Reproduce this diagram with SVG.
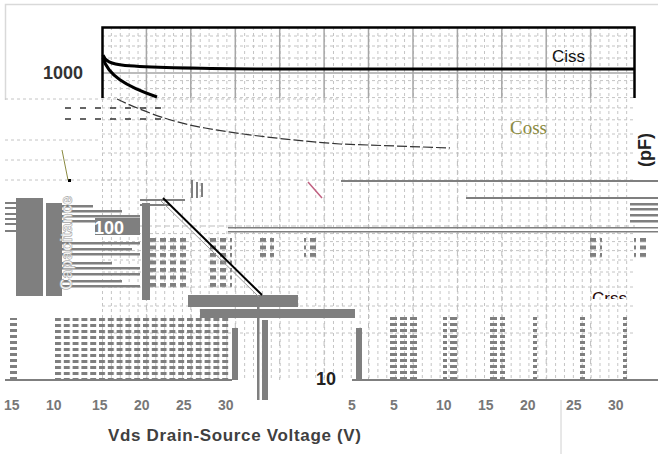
<svg xmlns="http://www.w3.org/2000/svg" width="658" height="454" viewBox="0 0 658 454">
<style>
.lbl{font-family:"Liberation Sans",Arial,sans-serif;font-weight:bold}
.blk{fill:#7f7f7f}
.hg{stroke:#c4c4c4;stroke-width:1;stroke-dasharray:3,3;fill:none}
.maj{stroke:#a6a6a6;stroke-width:1.5}
.tick{font-family:"Liberation Sans",Arial,sans-serif;font-weight:bold;font-size:14px;fill:#777}
</style>
<defs>
<pattern id="vminor" x="102" y="27" width="8.884" height="6" patternUnits="userSpaceOnUse">
<rect x="0" y="0" width="1" height="3" fill="#c4c4c4"/>
</pattern>
<pattern id="dashfield" x="55" y="318" width="8.8" height="6" patternUnits="userSpaceOnUse">
<rect x="0" y="0" width="6" height="3" fill="#7f7f7f"/>
</pattern>
<pattern id="dashcol" x="0" y="317" width="10" height="6" patternUnits="userSpaceOnUse">
<rect x="0" y="0" width="7" height="3" fill="#7f7f7f"/>
</pattern>
<pattern id="sq" x="150" y="238" width="10" height="7.5" patternUnits="userSpaceOnUse">
<rect x="0" y="0" width="6" height="4" fill="#7f7f7f"/>
</pattern>
<clipPath id="crssclip"><rect x="580" y="280" width="60" height="19"/></clipPath>
</defs>
<rect x="0" y="0" width="658" height="454" fill="#ffffff"/>
<path d="M5.5,100 V4.5 H658" fill="none" stroke="#d9d9d9" stroke-width="1.5"/>

<g id="grid">
<rect x="102" y="27" width="533" height="353" fill="url(#vminor)"/>
<g class="hg">
<path d="M102,36 H635 M102,46 H635 M102,58 H635 M102,80.6 H635 M102,88.6 H635 M102,97.6 H635 M102,107.9 H635 M102,119.8 H635 M102,134 H635 M102,153 H635 M102,180 H635 M102,233.6 H635 M102,241.6 H635 M102,250.6 H635 M102,260 H635 M102,272 H635 M102,287 H635 M102,306 H635 M102,333 H635"/>
<path d="M5,99 H340 M5,140 H100 M5,160 H100 M5,180 H120"/>
</g>
<g class="maj">
<path d="M146.4,27 V98 M190.8,27 V98 M235.3,27 V98 M279.7,27 V98 M324.1,27 V98 M368.5,27 V98 M413,27 V98 M457.4,27 V98 M501.8,27 V98 M546.2,27 V98 M590.6,27 V98"/>
<path d="M102,73 H635"/>
</g>
<g stroke="#bdbdbd" stroke-width="1" stroke-dasharray="5,4">
<path d="M146.4,98 V380 M190.8,98 V380 M235.3,98 V380 M279.7,98 V380 M324.1,98 V380 M368.5,98 V380 M413,98 V380 M457.4,98 V380 M501.8,98 V380 M546.2,98 V380 M590.6,98 V380"/>
<path d="M102,226 H635"/>
</g>
<path d="M65,108 H163 M65,119 H163" stroke="#333" stroke-width="1.5" stroke-dasharray="6,9"/>
</g>

<g id="frame" fill="none" stroke="#000" stroke-width="2.5">
<path d="M102.5,98 V27.5 H634.5 V98"/>
</g>

<g id="glitch">
<rect class="blk" x="16" y="198" width="27" height="98"/>
<rect class="blk" x="46" y="203" width="16" height="93"/>
<g class="blk">
<rect x="5" y="202" width="11" height="2"/><rect x="5" y="207" width="11" height="2"/><rect x="5" y="213" width="11" height="2"/>
<rect x="5" y="218" width="11" height="2"/><rect x="5" y="223" width="11" height="2"/><rect x="5" y="230" width="11" height="2"/>
<rect x="62" y="205" width="31" height="2.5"/><rect x="62" y="210" width="60" height="2.5"/><rect x="62" y="215" width="78" height="2.5"/>
<rect x="62" y="220" width="33" height="2.5"/><rect x="62" y="242" width="78" height="2.5"/><rect x="62" y="248" width="70" height="2.5"/>
<rect x="62" y="253" width="78" height="2.5"/><rect x="62" y="262" width="50" height="2.5"/><rect x="62" y="267" width="78" height="2.5"/>
<rect x="62" y="273" width="78" height="2.5"/><rect x="62" y="280" width="60" height="2.5"/><rect x="62" y="285" width="78" height="2.5"/>
<rect x="95" y="218" width="45" height="17"/>
<rect x="142" y="203" width="8" height="97"/>
<rect x="140" y="199" width="45" height="2"/><rect x="140" y="204" width="30" height="2"/>
<rect x="191" y="180" width="2" height="18"/><rect x="196" y="182" width="2" height="16"/><rect x="201" y="183" width="2" height="14"/>
<rect x="188" y="295" width="110" height="12"/>
<rect x="200" y="309" width="155" height="9"/>
<rect x="232" y="328" width="6" height="52"/>
<rect x="257" y="305" width="2.5" height="95"/>
<rect x="262" y="320" width="6" height="80"/>
<rect x="356" y="328" width="6" height="52"/>
<rect x="5" y="379" width="227" height="2"/>
<rect x="352" y="379" width="306" height="2"/>
<rect x="341" y="180" width="317" height="2"/>
<rect x="466" y="197" width="192" height="2"/>
<rect x="630" y="203" width="28" height="2.5"/><rect x="630" y="208" width="28" height="2.5"/>
<rect x="630" y="214" width="28" height="2.5"/><rect x="630" y="220" width="28" height="2.5"/>
<rect x="228" y="227" width="430" height="1.5"/><rect x="228" y="231" width="430" height="1.5"/>
</g>
<rect x="150" y="238" width="38" height="52" fill="url(#sq)"/>
<rect x="206" y="238" width="26" height="52" fill="url(#sq)"/>
<rect x="260" y="238" width="14" height="22" fill="url(#sq)"/>
<rect x="304" y="238" width="14" height="22" fill="url(#sq)"/>
<rect x="588" y="238" width="14" height="22" fill="url(#sq)"/>
<rect x="634" y="238" width="14" height="22" fill="url(#sq)"/>
<rect x="55" y="318" width="176" height="62" fill="url(#dashfield)"/>
<rect x="10" y="318" width="7" height="62" fill="url(#dashcol)"/>
<rect x="390" y="317" width="27" height="62" fill="url(#dashcol)"/>
<rect x="443" y="317" width="17" height="62" fill="url(#dashcol)"/>
<rect x="488" y="317" width="17" height="62" fill="url(#dashcol)"/>
<rect x="533" y="317" width="7" height="62" fill="url(#dashcol)"/>
<rect x="578" y="317" width="7" height="62" fill="url(#dashcol)"/>
<rect x="623" y="317" width="7" height="62" fill="url(#dashcol)"/>
<rect x="68" y="179" width="3" height="3" fill="#000"/>
<path d="M561,400 V454" stroke="#d0d0d0" stroke-width="1"/>
</g>

<g id="curves" fill="none" stroke="#000">
<path id="ciss" d="M103,55 C105,61 110,64 125,65.5 C150,67.5 200,68.5 260,69 L635,69" stroke-width="3"/>
<path id="coss" d="M103,58 C108,75 125,86 157,97" stroke-width="3"/>
<path d="M117,99 C140,110 170,122 205,128 C250,136 300,141 340,144 L450,148" stroke="#333" stroke-width="1.2" stroke-dasharray="10,3"/>
<path d="M62,150 L68,180" stroke="#8a8a40" stroke-width="1"/>
<path id="crss" d="M163,198 L262,295" stroke-width="2"/>
<path d="M160,200 L259,297" stroke="#999" stroke-width="1"/>
<path d="M308,182 L322,198" stroke="#c06080" stroke-width="1.5"/>
</g>

<g id="labels">
<text class="lbl" x="43" y="79" font-size="18" fill="#333">1000</text>
<text x="552" y="62" font-family="Liberation Sans,Arial,sans-serif" font-size="17" fill="#111">Ciss</text>
<text x="510" y="134" font-family="Liberation Serif,Times New Roman,serif" font-size="19" fill="#8a8a40">Coss</text>
<text x="592" y="304" font-family="Liberation Sans,Arial,sans-serif" font-size="17" fill="#2a0a0a" clip-path="url(#crssclip)">Crss</text>
<text class="lbl" x="94" y="234" font-size="18" fill="#ffffff">100</text>
<text class="lbl" x="316" y="385" font-size="18" fill="#222">10</text>
<text class="lbl" transform="translate(72,290) rotate(-90)" font-size="16" fill="#f4f4f4" stroke="#999" stroke-width="0.5">Capacitance</text>
<text class="lbl" transform="translate(651,133) rotate(-90)" text-anchor="end" font-size="18" fill="#222">(pF)</text>
<text class="lbl" x="108" y="441" font-size="17" fill="#404040" textLength="253" lengthAdjust="spacing">Vds Drain-Source Voltage (V)</text>
<g id="xticks">
<text class="tick" x="4" y="410">15</text>
<text class="tick" x="46" y="410">10</text>
<text class="tick" x="92" y="410">15</text>
<text class="tick" x="134" y="410">20</text>
<text class="tick" x="176" y="410">25</text>
<text class="tick" x="218" y="410">30</text>
<text class="tick" x="348" y="410">5</text>
<text class="tick" x="390" y="410">5</text>
<text class="tick" x="436" y="410">10</text>
<text class="tick" x="478" y="410">15</text>
<text class="tick" x="520" y="410">20</text>
<text class="tick" x="566" y="410">25</text>
<text class="tick" x="608" y="410">30</text>
</g>
</g>
</svg>
